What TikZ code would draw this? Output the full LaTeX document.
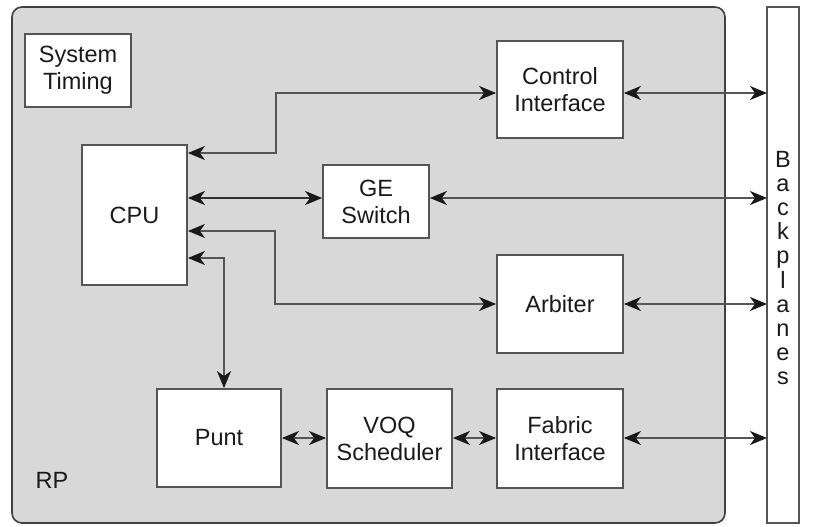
\documentclass[tikz,border=0pt]{standalone}
\usepackage{fontspec}
\setmainfont{Liberation Sans}
\usetikzlibrary{arrows.meta}
\definecolor{rpfill}{HTML}{D8D8D8}
\definecolor{edge}{HTML}{555555}
\definecolor{ink}{HTML}{1A1A1A}
\tikzset{
  box/.style={draw=edge, line width=1.8pt, fill=white, inner sep=0pt, align=center, text=ink,
    font=\fontsize{23.5}{27}\selectfont},
  tip/.tip={Stealth[length=17pt,width=14pt,inset=5pt,color=black!90]},
  link/.style={draw=edge, line width=1.8pt, tip-tip},
  thick link/.style={link, draw=black!80, line width=2.6pt},
}
\begin{document}
\begin{tikzpicture}[x=1pt,y=-1pt]
\useasboundingbox (0,0) rectangle (817,527);
% RP region
\draw[draw=black!75, line width=1.6pt, fill=rpfill, rounded corners=10pt] (12,7) rectangle (725,523);
\node[text=ink, font=\fontsize{23.5}{27}\selectfont] (rp) at (52,480) {RP};
% backplanes
\draw[draw=edge, line width=1.4pt, fill=white] (767,7) rectangle (799,523);
\coordinate (bp) at (767,0);
\node[text=ink, align=center, font=\fontsize{23.5}{24.1}\selectfont, inner sep=0pt] (bpl) at (783,268)
  {B\\a\\c\\k\\p\\l\\a\\n\\e\\s};
% boxes
\node[box, minimum width=106pt, minimum height=73pt] (st) at (78,70.5) {System\\Timing};
\node[box, minimum width=105pt, minimum height=140pt] (cpu) at (134.5,215) {CPU};
\node[box, minimum width=126pt, minimum height=97pt] (ci) at (560,89.5) {Control\\Interface};
\node[box, minimum width=106pt, minimum height=73pt] (ge) at (376,201.5) {GE\\Switch};
\node[box, minimum width=126pt, minimum height=98pt] (arb) at (560,304) {Arbiter};
\node[box, minimum width=124pt, minimum height=98pt] (punt) at (219,438) {Punt};
\node[box, minimum width=125pt, minimum height=99pt] (voq) at (389.5,438.5) {VOQ\\Scheduler};
\node[box, minimum width=126pt, minimum height=99pt] (fab) at (560,438.5) {Fabric\\Interface};
% connectors
\draw[link] (cpu.east |- 0,153) -| (276,93) -- (ci.west |- 0,93);
\draw[thick link] (cpu.east |- 0,198) -- (ge.west |- 0,198);
\draw[link] (cpu.east |- 0,231) -| (275,304) -- (arb.west);
\draw[link] (cpu.east |- 0,258) -| (punt.north -| 224,0);
\draw[link] (ci.east |- 0,93) -- (bp |- 0,93);
\draw[link] (ge.east |- 0,198) -- (bp |- 0,198);
\draw[link] (arb.east) -- (bp |- arb.east);
\draw[link] (punt.east |- 0,438) -- (voq.west |- 0,438);
\draw[link] (voq.east |- 0,438) -- (fab.west |- 0,438);
\draw[link] (fab.east |- 0,438) -- (bp |- 0,438);
\end{tikzpicture}
\end{document}
